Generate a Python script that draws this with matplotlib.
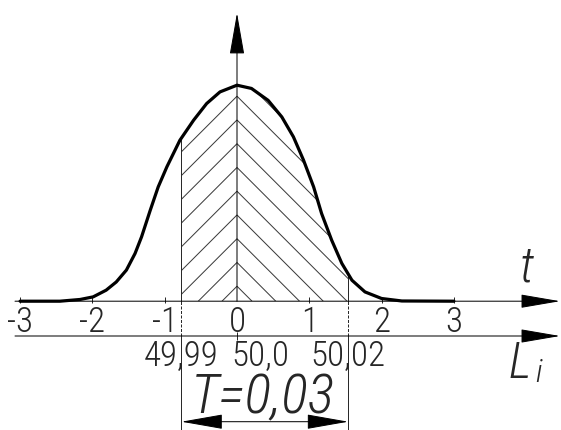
import numpy as np
import matplotlib
matplotlib.use("Agg")
import matplotlib.pyplot as plt
from matplotlib.collections import LineCollection
from matplotlib.patches import Polygon, ArrowStyle

# ---------------- data ----------------
curve_t = [-3.0, -2.45, -2.17, -1.99, -1.81, -1.67, -1.53, -1.41, -1.32, -1.20,
           -1.09, -0.97, -0.79, -0.60, -0.42, -0.235, 0.0,
           0.20, 0.43, 0.62, 0.78, 0.92, 1.06, 1.17, 1.31, 1.45, 1.59,
           1.77, 2.00, 2.28, 3.0]
curve_h = [0.0, 0.0, 0.008, 0.02, 0.051, 0.089, 0.144, 0.221, 0.298, 0.421,
           0.529, 0.622, 0.745, 0.838, 0.915, 0.969, 1.0,
           0.985, 0.93, 0.853, 0.761, 0.653, 0.529, 0.406, 0.282, 0.175, 0.097,
           0.043, 0.0125, 0.001, 0.0]
t_ticks = [-3, -2, -1, 0, 1, 2, 3]
L_mean = 50.0
L_sigma = 0.013
L_ticks = [49.99, 50.0, 50.02]
L_low, L_high = 49.99, 50.02

# ---------------- layout ----------------
W, H, DPI = 561, 430, 144
X0, UX = 237.0, 72.3      # pixel of t=0, pixels per t unit
Y0, UY = 301.2, 216.0     # pixel row of baseline, pixels per density unit


def dx(px):
    return (px - X0) / UX


def dy(py):
    return (Y0 - py) / UY


def pt(px):
    return px * 72.0 / DPI


FONT = ['Roboto Condensed', 'Liberation Sans Narrow', 'DejaVu Sans']
TXT = '#262626'
LINE = '#2a2a2a'

fig = plt.figure(figsize=(W / DPI, H / DPI), dpi=DPI)
ax = fig.add_axes([0, 0, 1, 1])
ax.set_xlim(dx(0), dx(W))
ax.set_ylim(dy(H), dy(0))
ax.axis('off')

t_of_L = lambda L: (L - L_mean) / L_sigma
t1, t2 = t_of_L(L_low), t_of_L(L_high)
yL = dy(336)
yD = dy(421.7)


def arrow(x0, y0, x1, y1, hl, hw, style='-|>'):
    ax.annotate('', xy=(x1, y1), xytext=(x0, y0),
                arrowprops=dict(arrowstyle=ArrowStyle(style, head_length=pt(hl),
                                                      head_width=pt(hw)),
                                mutation_scale=1, lw=0.5, color='black',
                                shrinkA=0, shrinkB=0))


# axes with arrows
arrow(0, 0, 0, dy(13), 37, 6.5)
arrow(dx(15), 0, dx(560), 0, 35, 6)
arrow(dx(15), yL, dx(560), yL, 35, 6)
arrow(t1, yD, t2, yD, 37, 6.5, style='<|-|>')

# hatching (45 deg in pixels), chevrons meeting at the vertical axis
m = UX / UY
apex = [(15 + 23.75 * k) / UY for k in range(15)]
segs = []
for ha in apex:
    ts = max(t1, -ha / m)
    segs.append([(ts, ha + m * ts), (0, ha)])
    te = min(t2, ha / m)
    segs.append([(0, ha), (te, ha - m * te)])
clip = Polygon(list(zip(curve_t, curve_h)) + [(curve_t[-1], 0), (curve_t[0], 0)],
               closed=True, facecolor='none', edgecolor='none',
               transform=ax.transData)
ax.add_patch(clip)
lc = LineCollection(segs, colors='#3a3a3a', linewidths=0.5)
ax.add_collection(lc)
lc.set_clip_path(clip)

# curve
ax.plot(curve_t, curve_h, color='black', lw=1.6, solid_joinstyle='round',
        solid_capstyle='round', zorder=5)

# extension lines
for tb in (t1, t2):
    top = np.interp(tb, curve_t, curve_h)
    ax.plot([tb, tb], [0, top], color=LINE, lw=0.5)
    ax.plot([tb, tb], [yL, 0], color=LINE, lw=0.5, ls=(0, (3, 1.5)))
    ax.plot([tb, tb], [dy(H), yL], color=LINE, lw=0.5)

# ticks
ax.vlines([t for t in t_ticks if t != 0], dy(303), dy(296.5), color=LINE, lw=0.5)
ax.vlines([t_of_L(L_mean)], yL - 4 / UY, yL + 4 / UY, color=LINE, lw=0.5)

FS = 17.5
# tick labels
for t in t_ticks:
    ax.text(t, dy(305), str(t), ha='center', va='top', fontsize=FS,
            family=FONT, weight='light', color=TXT)

for L in L_ticks:
    lab = str(L).replace('.', ',')
    tl = t_of_L(L)
    if L == L_mean:
        ax.annotate(lab, xy=(tl, dy(339)), xytext=(pt(-6), 0),
                    textcoords='offset points', ha='left', va='top',
                    fontsize=FS, family=FONT, weight='light', color=TXT)
    else:
        ax.text(tl, dy(339), lab, ha='center', va='top', fontsize=FS,
                family=FONT, weight='light', color=TXT)

T = round(L_high - L_low, 2)
ax.text((t1 + t2) / 2 - 2 / UX, dy(413), ('T=%.2f' % T).replace('.', ','),
        ha='center', va='baseline', fontsize=28, family=FONT, weight='light',
        style='italic', color=TXT)

# axis names
ax.text(dx(527), dy(268), 't', ha='center', va='center', fontsize=25,
        family=FONT, weight='light', style='italic', color=TXT)
ax.text(dx(520), dy(365), 'L', ha='center', va='center', fontsize=25,
        family=FONT, weight='light', style='italic', color=TXT)
ax.text(dx(538), dy(373), 'i', ha='center', va='center', fontsize=16,
        family=FONT, weight='light', style='italic', color=TXT)

fig.savefig('out.png', dpi=DPI)
